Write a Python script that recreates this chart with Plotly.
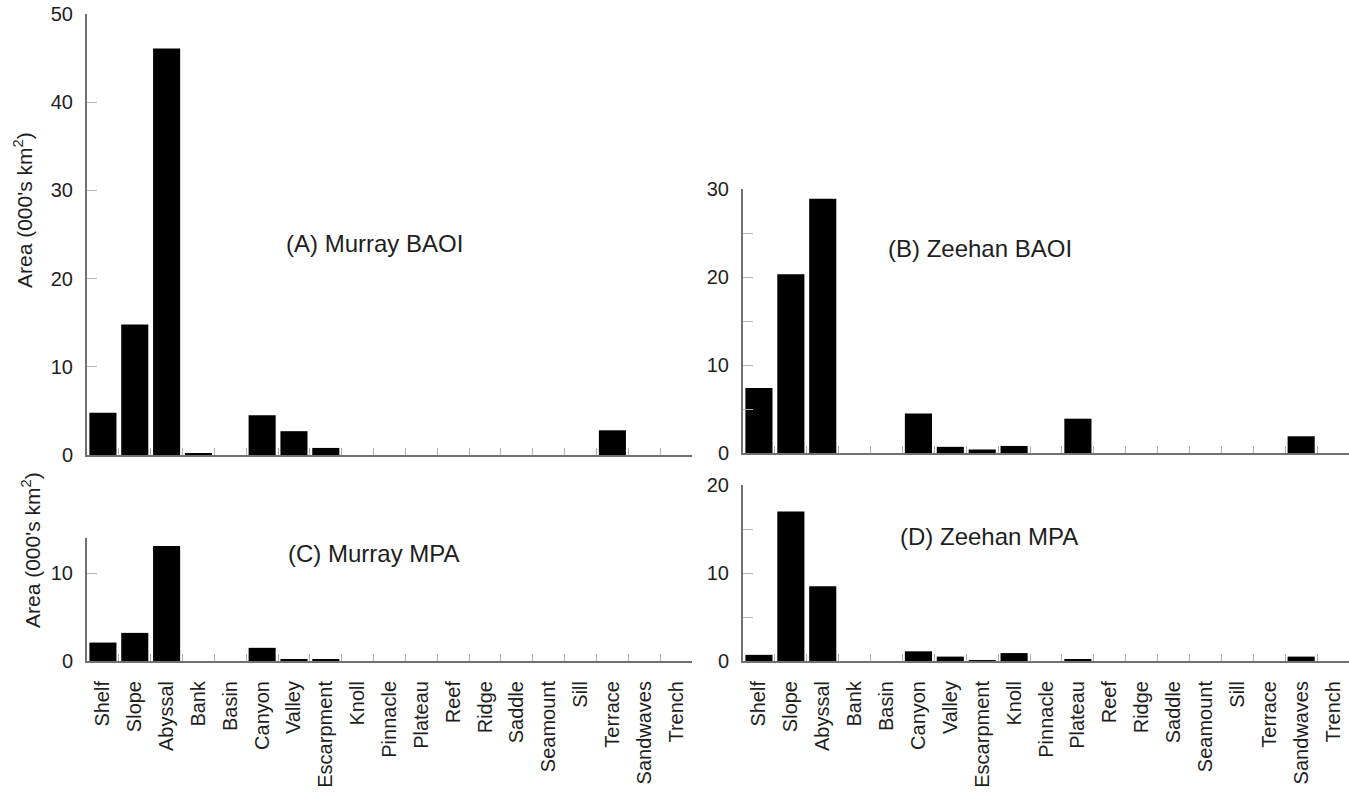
import plotly.graph_objects as go

# Geomorphic feature classes
features = ["Shelf", "Slope", "Abyssal", "Bank", "Basin", "Canyon", "Valley",
            "Escarpment", "Knoll", "Pinnacle", "Plateau", "Reef", "Ridge",
            "Saddle", "Seamount", "Sill", "Terrace", "Sandwaves", "Trench"]

# Area of each feature, thousands of km^2
murray_baoi = [4.8, 14.8, 46.1, 0.2, 0, 4.5, 2.7, 0.8, 0, 0, 0, 0, 0, 0, 0, 0, 2.8, 0, 0]
zeehan_baoi = [7.4, 20.3, 28.9, 0, 0, 4.5, 0.7, 0.4, 0.8, 0, 3.9, 0, 0, 0, 0, 0, 0, 1.9, 0]
murray_mpa = [2.1, 3.2, 13.1, 0, 0, 1.5, 0.2, 0.2, 0, 0, 0, 0, 0, 0, 0, 0, 0, 0, 0]
zeehan_mpa = [0.7, 17.0, 8.5, 0, 0, 1.1, 0.5, 0.1, 0.9, 0, 0.2, 0, 0, 0, 0, 0, 0, 0.5, 0]

panel_titles = ["(A) Murray BAOI", "(B) Zeehan BAOI", "(C) Murray MPA", "(D) Zeehan MPA"]
y_title = "Area (000's km<sup>2</sup>)"

W, H = 1349, 792
FONT = "Liberation Sans, Arial, Helvetica, sans-serif"
TXT = "#1e1e1e"
AXC = "#707070"
TICKC = "#b0b0b0"


def px(x):
    return x / W


def py(y):
    return 1 - y / H


fig = go.Figure()

panels = [
    # series, x-axis id, y-axis id, x-domain px, y-domain px (bottom, top), y-range, tick labels, minor ticks
    (murray_baoi, "x", "y", (87, 692), (455, 14), (0, 50), False, False),
    (zeehan_baoi, "x2", "y2", (743, 1349), (453, 189), (0, 30), False, True),
    (murray_mpa, "x3", "y3", (87, 692), (661, 538), (0, 14), True, False),
    (zeehan_mpa, "x4", "y4", (743, 1349), (661, 485), (0, 20), True, True),
]

layout_axes = {}
for vals, xa, ya, xd, yd, yr, show_lab, minor in panels:
    fig.add_trace(go.Bar(
        x=features, y=vals, xaxis=xa, yaxis=ya,
        marker=dict(color="#000000", line=dict(width=0)),
        showlegend=False, hoverinfo="x+y",
    ))
    xkey = "xaxis" if xa == "x" else "xaxis" + xa[1:]
    ykey = "yaxis" if ya == "y" else "yaxis" + ya[1:]
    layout_axes[xkey] = dict(
        domain=[px(xd[0]), px(xd[1])], anchor=ya, type="category",
        categoryorder="array", categoryarray=features,
        range=[-0.5, len(features) - 0.5], automargin=False,
        showline=True, linecolor=AXC, linewidth=2,
        ticks="inside", tickson="boundaries", ticklen=7, tickcolor=TICKC, tickwidth=1,
        showticklabels=show_lab, tickangle=-90, ticklabelstandoff=10,
        tickfont=dict(family=FONT, size=20, color=TXT),
        showgrid=False, zeroline=False, fixedrange=True,
    )
    yax = dict(
        domain=[py(yd[0]), py(yd[1])], anchor=xa, range=list(yr), dtick=10,
        automargin=False,
        showline=True, linecolor=AXC, linewidth=2,
        ticks="inside", ticklen=10, tickcolor=TICKC, tickwidth=1,
        ticklabelstandoff=8,
        tickfont=dict(family=FONT, size=20, color=TXT),
        showgrid=False, zeroline=False, fixedrange=True,
    )
    if minor:
        yax["minor"] = dict(dtick=5, ticks="inside", ticklen=10, tickcolor=TICKC, tickwidth=1)
    layout_axes[ykey] = yax

fig.update_layout(**layout_axes)

annotations = []
# panel captions
for text, cx, cy in zip(panel_titles, [374, 980, 374, 989], [243, 248, 553, 536]):
    annotations.append(dict(text=text, x=px(cx), y=py(cy), xref="paper", yref="paper",
                            xanchor="center", yanchor="middle", showarrow=False,
                            font=dict(family=FONT, size=24, color=TXT)))
# y-axis titles of the left panels
for cx, cy in [(23, 210), (31, 550)]:
    annotations.append(dict(text=y_title, x=px(cx), y=py(cy), xref="paper", yref="paper",
                            xanchor="center", yanchor="middle", textangle=-90, showarrow=False,
                            font=dict(family=FONT, size=21, color=TXT)))

fig.update_layout(
    template="none",
    width=W, height=H,
    margin=dict(l=0, r=0, t=0, b=0, autoexpand=False),
    paper_bgcolor="white", plot_bgcolor="white",
    bargap=0.15,
    annotations=annotations,
)

fig.write_html("out.html", config={"displayModeBar": False})
